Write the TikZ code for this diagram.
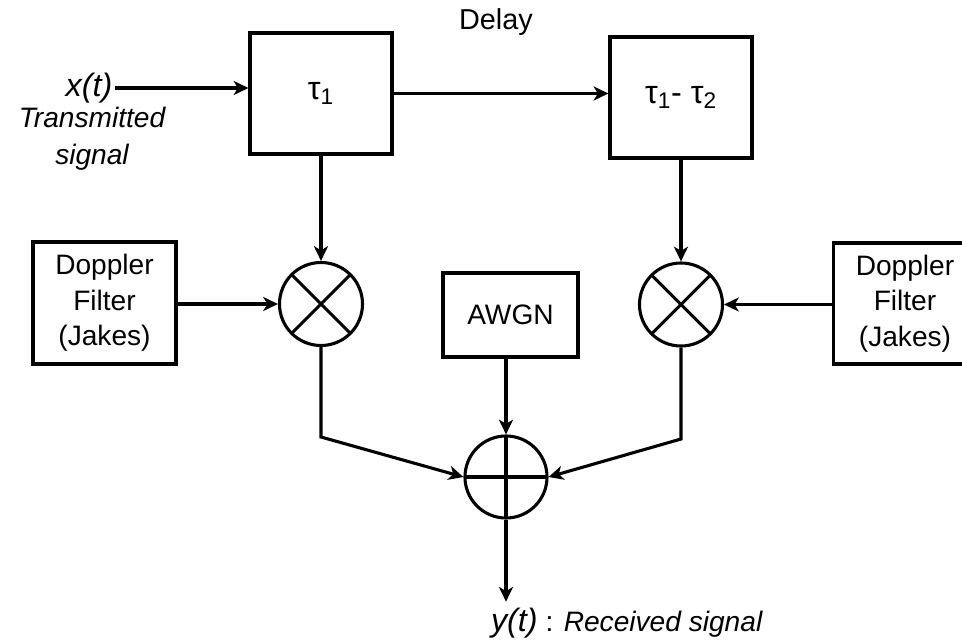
\documentclass[tikz,border=0pt]{standalone}
\usepackage{fontspec}
\setmainfont{Liberation Sans}
\usetikzlibrary{positioning, arrows.meta, calc}

\begin{document}
\begin{tikzpicture}[
    x=0.025cm, y=-0.025cm,
    >={Stealth[length=10.5pt, width=10pt, inset=3pt]},
    line width=2.2pt,
    block/.style={draw, rectangle, minimum width=3.55cm, minimum height=3.025cm, align=center, font=\fontsize{20}{25.2}\selectfont},
    mixer/.style={draw, circle, minimum size=2.075cm, inner sep=0pt,
        path picture={\draw (path picture bounding box.north west) -- (path picture bounding box.south east)
                            (path picture bounding box.south west) -- (path picture bounding box.north east);}},
    adder/.style={draw, circle, minimum size=2.05cm, inner sep=0pt,
        path picture={\draw (path picture bounding box.north) -- (path picture bounding box.south)
                            (path picture bounding box.west) -- (path picture bounding box.east);}},
    sig_arrow/.style={->},
    label_font/.style={font=\fontsize{20}{26}\selectfont\itshape, align=center},
    sig_font/.style={font=\fontsize{23}{28}\selectfont\itshape, inner sep=1pt},
    tau_font/.style={font=\fontsize{23}{28}\selectfont}
]
\useasboundingbox (0,0) rectangle (962,644);

% 1. delay blocks
\node[font=\fontsize{20.5}{25}\selectfont] (delay) at (496, 22) {Delay};
\node[block, tau_font] (tau1) at (321, 93.5) {τ\textsubscript{1}};
\node[block, tau_font] (tau2) at (681, 97.5) {τ\textsubscript{1}- τ\textsubscript{2}};

% 2. input signal
\node[sig_font] (xt) at (89, 88) {x(t)};
\node[label_font] (txsig) at (92, 139) {Transmitted\\signal};

% 3. doppler filters, mixers, noise
\node[block, minimum width=3.575cm, minimum height=3.05cm] (dopL) at (104.5, 303) {Doppler\\Filter\\(Jakes)};
\node[block, minimum width=3.575cm, minimum height=3.025cm] (dopR) at (905, 303.5) {Doppler\\Filter\\(Jakes)};
\node[block, minimum width=3.375cm, minimum height=2.1cm] (awgn) at (510.5, 315) {AWGN};
\node[mixer] (mul1) at (321, 304) {};
\node[mixer] (mul2) at (681, 304.5) {};
\node[adder] (sum) at (506, 477) {};

% 4. output
\node[font=\fontsize{20}{26}\selectfont] (ylab) at (627, 623) {{\fontsize{23}{28}\selectfont\itshape y(t)} : \textit{Received signal}};
\coordinate (bendL) at (321, 437);
\coordinate (bendR) at (681, 439);

% 5. connectors
\draw[sig_arrow] (xt.east) -- (xt.east -| tau1.west);
\draw[sig_arrow] (tau1.east) -- (tau1.east -| tau2.west);
\draw[sig_arrow] (tau1.south) -- (mul1.north);
\draw[sig_arrow] (tau2.south) -- (mul2.north);
\draw[sig_arrow] (dopL.east |- mul1) -- (mul1.west);
\draw[sig_arrow] (dopR.west |- mul2) -- (mul2.east);
\draw[sig_arrow] (awgn.south -| sum.north) -- (sum.north);
\draw[sig_arrow] (mul1.south) -- (bendL) -- (sum.west);
\draw[sig_arrow] (mul2.south) -- (bendR) -- (sum.east);
\draw[sig_arrow] (sum.south) -- (sum.south |- ylab.north);

\end{tikzpicture}
\end{document}
